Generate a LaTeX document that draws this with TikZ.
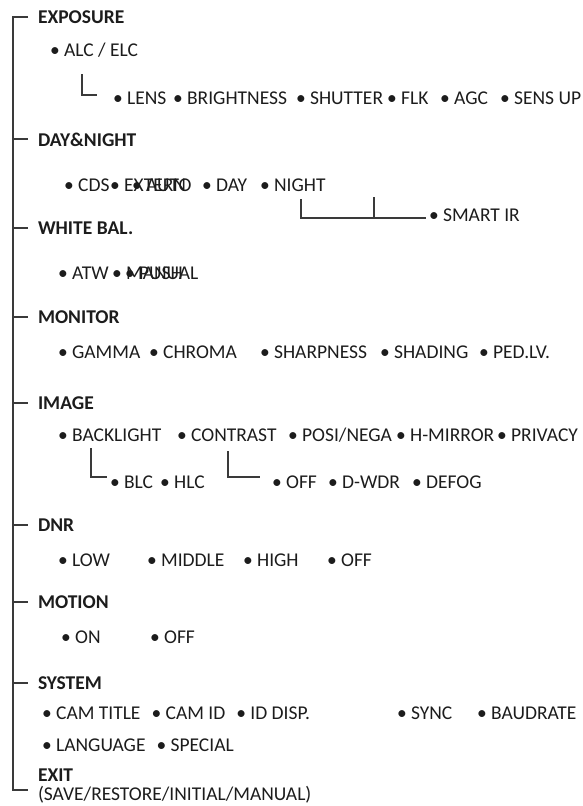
\documentclass[tikz,border=0pt]{standalone}
\usepackage{fontspec}
\setmainfont{Carlito}
\definecolor{txt}{HTML}{1C1C1C}
\definecolor{ln}{HTML}{3A3A3A}
\begin{document}
\begin{tikzpicture}[x=1pt,y=-1pt,
  every node/.style={inner sep=0pt,outer sep=0pt},
  item/.style={anchor=base west,text=txt,font=\fontsize{19.5}{23}\selectfont},
  head/.style={anchor=base west,text=txt,font=\fontsize{19.5}{23}\selectfont\bfseries},
  tree/.style={draw=ln,line width=2pt}]
\useasboundingbox (0,0) rectangle (582,806);
\coordinate (spine) at (13,0);
\coordinate (bot) at (28,790);
% headings
\node[head] (h1) at (38,23) {EXPOSURE};
\node[head] (h2) at (38,146) {DAY\&NIGHT};
\node[head] (h3) at (38,234) {WHITE BAL.};
\node[head] (h4) at (38,323) {MONITOR};
\node[head] (h5) at (38,409) {IMAGE};
\node[head] (h6) at (38,531) {DNR};
\node[head] (h7) at (38,608) {MOTION};
\node[head] (h8) at (38,689) {SYSTEM};
\node[head] (h9) at (38,781) {EXIT};
\node[item] (save) at (38,800) {(SAVE/RESTORE/INITIAL/MANUAL)};
% spine
\draw[tree] ([xshift=-10pt]h1.west) -- (h1.west -| spine) |- (bot);
\foreach \h in {h2,h3,h4,h5,h6,h7,h8}
  \draw[tree] (\h.west -| spine) -- ([xshift=-10pt]\h.west);
% EXPOSURE
\node[item] (alc) at (50,56) {• ALC / ELC};
\node[item] (lens) at (113,104) {• LENS};
\node[item] (bright) at (173,104) {• BRIGHTNESS};
\node[item] (shut) at (296,104) {• SHUTTER};
\node[item] (flk) at (387,104) {• FLK};
\node[item] (agc) at (440,104) {• AGC};
\node[item] (sens) at (500,104) {• SENS UP};
\draw[tree] ([xshift=32pt,yshift=-18pt]alc.base west) |- ([xshift=-16pt,yshift=3pt]lens.west);
% DAY&NIGHT
\node[item] (cds) at (64,191) {• CDS};
\node[item] (extern) at (110,191) {• EXTERN};
\node[item] (auto) at (132,191) {• AUTO};
\node[item] (day) at (202,191) {• DAY};
\node[item] (night) at (260,191) {• NIGHT};
\node[item] (smart) at (429,221) {• SMART IR};
\draw[tree] ([xshift=41pt,yshift=-8pt]night.base west) |- ([xshift=-3pt,yshift=-3pt]smart.west);
\coordinate (dnmid) at (374,197);
\coordinate (dnjoin) at (374,218);
\draw[tree] (dnmid) -- (dnjoin);
% WHITE BAL.
\node[item] (atw) at (58,279) {• ATW};
\node[item] (manual) at (112,279) {• MANUAL};
\node[item] (push) at (125,279) {• PUSH};
% MONITOR
\node[item] (gamma) at (58,358) {• GAMMA};
\node[item] (chroma) at (149,358) {• CHROMA};
\node[item] (sharp) at (260,358) {• SHARPNESS};
\node[item] (shading) at (380,358) {• SHADING};
\node[item] (ped) at (479,358) {• PED.LV.};
% IMAGE
\node[item] (back) at (58,441) {• BACKLIGHT};
\node[item] (contrast) at (177,441) {• CONTRAST};
\node[item] (posi) at (288,441) {• POSI/NEGA};
\node[item] (hmir) at (396,441) {• H-MIRROR};
\node[item] (priv) at (497,441) {• PRIVACY};
\node[item] (blc) at (110,488) {• BLC};
\node[item] (hlc) at (160,488) {• HLC};
\node[item] (offa) at (272,488) {• OFF};
\node[item] (dwdr) at (328,488) {• D-WDR};
\node[item] (defog) at (412,488) {• DEFOG};
\draw[tree] ([xshift=33pt,yshift=-7pt]back.base west) |- ([xshift=-3pt,yshift=5pt]blc.west);
\draw[tree] ([xshift=51pt,yshift=-10pt]contrast.base west) |- ([xshift=-12pt,yshift=5pt]offa.west);
% DNR
\node[item] (low) at (58,566) {• LOW};
\node[item] (middle) at (147,566) {• MIDDLE};
\node[item] (high) at (243,566) {• HIGH};
\node[item] (offb) at (327,566) {• OFF};
% MOTION
\node[item] (on) at (61,643) {• ON};
\node[item] (offc) at (150,643) {• OFF};
% SYSTEM
\node[item] (camtitle) at (42,719) {• CAM TITLE};
\node[item] (camid) at ([xshift=11pt]camtitle.base east) {• CAM ID};
\node[item] (iddisp) at ([xshift=11pt]camid.base east) {• ID DISP.};
\node[item] (sync) at (397,719) {• SYNC};
\node[item] (baud) at (477,719) {• BAUDRATE};
\node[item] (lang) at (42,751) {• LANGUAGE};
\node[item] (special) at ([xshift=11pt]lang.base east) {• SPECIAL};
\end{tikzpicture}
\end{document}
